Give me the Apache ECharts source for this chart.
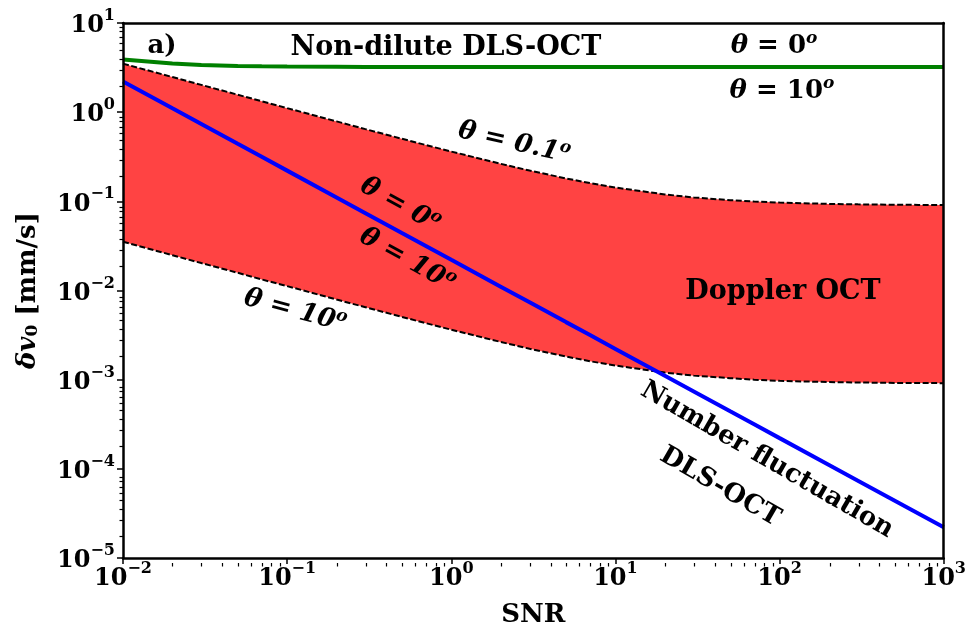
<!DOCTYPE html>
<html>
<head>
<meta charset="utf-8">
<script src="https://cdn.jsdelivr.net/npm/echarts@6/dist/echarts.min.js"></script>
<style>
  html, body { margin: 0; padding: 0; background: #fff; }
  #chart { width: 969px; height: 633px; }
</style>
</head>
<body>
<div id="chart"></div>
<script>
// SNR 采样点
const snr = [0.01, 0.02, 0.03, 0.05, 0.07, 0.1, 0.2, 0.3, 0.5, 0.7, 1, 2, 3, 5, 7, 10, 20, 30, 50, 70, 100, 200, 300, 500, 700, 1000]
// Doppler OCT, theta = 0.1 deg (上边界)
const doppler01 = [3.5, 2.475, 2.023, 1.568, 1.326, 1.11, 0.788, 0.645, 0.503, 0.428, 0.3615, 0.2634, 0.2213, 0.1807, 0.1602, 0.1428, 0.1195, 0.1106, 0.103, 0.0995, 0.0968, 0.0936, 0.0925, 0.0916, 0.0912, 0.0909]
// Doppler OCT, theta = 10 deg (下边界)
const doppler10 = [0.0352, 0.0249, 0.0203, 0.0158, 0.0133, 0.0112, 0.00792, 0.00649, 0.00506, 0.0043, 0.00363, 0.00265, 0.00222, 0.00182, 0.00161, 0.00144, 0.0012, 0.00111, 0.00104, 0.001, 0.00097, 0.00094, 0.00093, 0.00092, 0.000917, 0.000914]
// Number fluctuation DLS-OCT
const numberFluct = [2.21, 1.105, 0.737, 0.442, 0.316, 0.221, 0.1105, 0.0737, 0.0442, 0.0316, 0.0221, 0.01105, 0.00737, 0.00442, 0.00316, 0.00221, 0.001105, 0.000737, 0.000442, 0.000316, 0.000221, 0.0001105, 0.0000737, 0.0000442, 0.0000316, 0.0000221]
// Non-dilute DLS-OCT
const nonDilute = [3.9, 3.52, 3.38, 3.3, 3.27, 3.25, 3.23, 3.22, 3.21, 3.21, 3.2, 3.2, 3.2, 3.2, 3.2, 3.2, 3.2, 3.2, 3.2, 3.2, 3.2, 3.2, 3.2, 3.2, 3.2, 3.2]

// 刻度
const xMajorTicks = [1e-2, 1e-1, 1e0, 1e1, 1e2, 1e3]
const yMajorTicks = [1e-5, 1e-4, 1e-3, 1e-2, 1e-1, 1e0, 1e1]
const minorOf = (majors) => {
  const out = []
  majors.slice(0, -1).forEach(m => {
    for (let k = 2; k <= 9; k++) out.push(+(m * k).toPrecision(3))
  })
  return out
}

const pairs = (ys) => snr.map((s, i) => [s, ys[i]])
const FONT = 'DejaVu Serif'

const tickRich = {
  b: { fontFamily: FONT, fontWeight: 'bold', fontSize: 24, color: '#000', lineHeight: 30, verticalAlign: 'bottom' },
  s: { fontFamily: FONT, fontWeight: 'bold', fontSize: 16, color: '#000', lineHeight: 30, verticalAlign: 'top' }
}
const expFormatter = (v) => {
  const e = Math.round(Math.log10(v))
  return '{b|10}{s|' + (e < 0 ? '\u2212' + (-e) : e) + '}'
}

const textRich = {
  t: { fontFamily: FONT, fontWeight: 'bold', fontStyle: 'italic', fontSize: 26, color: '#000' },
  n: { fontFamily: FONT, fontWeight: 'bold', fontSize: 26, color: '#000' },
  ni: { fontFamily: FONT, fontWeight: 'bold', fontStyle: 'italic', fontSize: 26, color: '#000' },
  o: { fontFamily: FONT, fontWeight: 'bold', fontStyle: 'italic', fontSize: 17, color: '#000', verticalAlign: 'top', padding: [0, 0, 14, 0] }
}
const label = (text, x, y, deg, size) => ({
  type: 'text',
  x: x,
  y: y,
  rotation: -deg * Math.PI / 180,
  z: 100,
  style: {
    text: text,
    rich: textRich,
    font: 'bold ' + (size || 26) + 'px "' + FONT + '"',
    fill: '#000',
    align: 'center',
    verticalAlign: 'middle'
  }
})

const theta = (val, italicNum) => '{t|θ}{n| = }' + (italicNum ? '{ni|' + val + '}' : '{n|' + val + '}') + '{o|o}'

// 次刻度坐标轴(放在第二个重叠的 grid 里, 只画短刻度)
const minorAxis = (pos, min, max, ticks) => ({
  type: 'log', gridIndex: 1, min: min, max: max, position: pos, z: 10,
  axisLine: { show: false },
  axisTick: { show: true, length: 3.5, lineStyle: { color: '#000', width: 1.2 }, customValues: ticks },
  axisLabel: { show: false },
  splitLine: { show: false }
})

const chart = echarts.init(document.getElementById('chart'))
chart.setOption({
  backgroundColor: '#fff',
  animation: false,
  grid: [
    { left: 123, right: 24, top: 23, bottom: 70, show: false },
    { left: 123, right: 24, top: 23, bottom: 70, show: false }
  ],
  xAxis: [
    {
      type: 'log', gridIndex: 0, min: 0.01, max: 1000, position: 'bottom', z: 10,
      name: 'SNR', nameLocation: 'middle', nameGap: 44,
      nameTextStyle: { fontFamily: FONT, fontWeight: 'bold', fontSize: 26, color: '#000' },
      axisLine: { show: true, lineStyle: { color: '#000', width: 2.5 } },
      axisTick: { show: true, length: 6, lineStyle: { color: '#000', width: 1.5 }, customValues: xMajorTicks },
      axisLabel: { show: true, margin: 3, customValues: xMajorTicks, formatter: expFormatter, rich: tickRich },
      splitLine: { show: false }
    },
    {
      type: 'log', gridIndex: 0, min: 0.01, max: 1000, position: 'top', z: 10,
      axisLine: { show: true, lineStyle: { color: '#000', width: 2.5 } },
      axisTick: { show: false }, axisLabel: { show: false }, splitLine: { show: false }
    },
    minorAxis('bottom', 0.01, 1000, minorOf(xMajorTicks))
  ],
  yAxis: [
    {
      type: 'log', gridIndex: 0, min: 1e-5, max: 10, position: 'left', z: 10,
      name: '{d|δv}{z|0}{n| [mm/s]}', nameLocation: 'middle', nameGap: 82, nameRotate: 90,
      nameTextStyle: {
        rich: {
          d: { fontFamily: FONT, fontWeight: 'bold', fontStyle: 'italic', fontSize: 26, color: '#000', verticalAlign: 'bottom', lineHeight: 30 },
          z: { fontFamily: FONT, fontWeight: 'bold', fontSize: 17, color: '#000', verticalAlign: 'bottom', lineHeight: 22 },
          n: { fontFamily: FONT, fontWeight: 'bold', fontSize: 26, color: '#000', verticalAlign: 'bottom', lineHeight: 30 }
        }
      },
      axisLine: { show: true, lineStyle: { color: '#000', width: 2.5 } },
      axisTick: { show: true, length: 6, lineStyle: { color: '#000', width: 1.5 }, customValues: yMajorTicks },
      axisLabel: { show: true, margin: 8, customValues: yMajorTicks, formatter: expFormatter, rich: tickRich },
      splitLine: { show: false }
    },
    {
      type: 'log', gridIndex: 0, min: 1e-5, max: 10, position: 'right', z: 10,
      axisLine: { show: true, lineStyle: { color: '#000', width: 2.5 } },
      axisTick: { show: false }, axisLabel: { show: false }, splitLine: { show: false }
    },
    minorAxis('left', 1e-5, 10, minorOf(yMajorTicks))
  ],
  series: [
    {
      name: 'Doppler theta=0.1', type: 'line', data: pairs(doppler01),
      xAxisIndex: 0, yAxisIndex: 0, symbol: 'none',
      lineStyle: { color: '#000', width: 2, type: [6, 2.5] },
      areaStyle: { color: '#ff4343', opacity: 1, origin: 'start' }
    },
    {
      name: 'Doppler theta=10', type: 'line', data: pairs(doppler10),
      xAxisIndex: 0, yAxisIndex: 0, symbol: 'none',
      lineStyle: { color: '#000', width: 2, type: [6, 2.5] },
      areaStyle: { color: '#ffffff', opacity: 1, origin: 'start' }
    },
    {
      name: 'Number fluctuation', type: 'line', data: pairs(numberFluct),
      xAxisIndex: 0, yAxisIndex: 0, symbol: 'none',
      lineStyle: { color: '#0000ff', width: 4 }
    },
    {
      name: 'Non-dilute', type: 'line', data: pairs(nonDilute),
      xAxisIndex: 0, yAxisIndex: 0, symbol: 'none',
      lineStyle: { color: '#008000', width: 4 }
    }
  ],
  graphic: [
    label('a)', 162, 46, 0),
    label('Non-dilute DLS-OCT', 446, 48, 0, 27),
    label(theta('0', false), 774, 46, 0),
    label(theta('10', false), 782, 91, 0),
    label(theta('0.1', true), 514, 143, 13),
    label(theta('0', true), 400, 205, 29),
    label(theta('10', true), 407, 260, 29),
    label(theta('10', true), 295, 311, 15),
    label('Doppler OCT', 783, 292, 0, 27),
    label('Number fluctuation', 767, 460, 30),
    label('DLS-OCT', 720, 487, 30)
  ]
})
</script>
</body>
</html>
